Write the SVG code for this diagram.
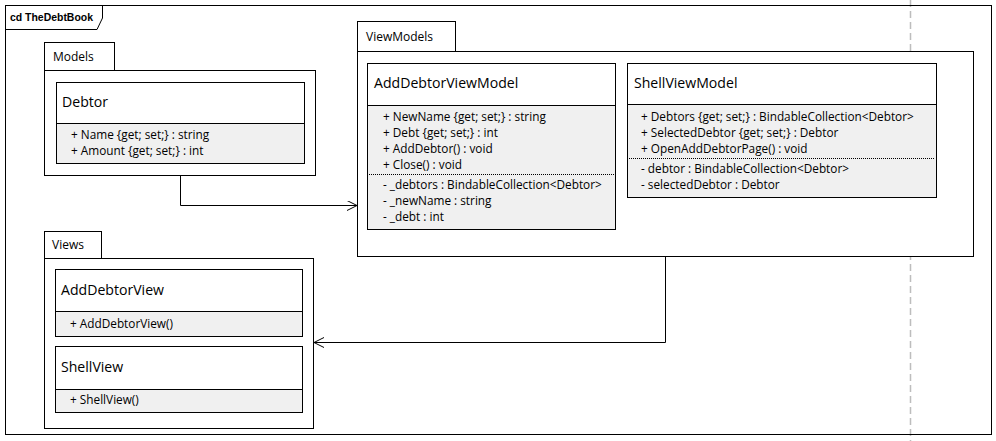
<svg xmlns="http://www.w3.org/2000/svg" width="996" height="441" viewBox="0 0 996 441">
<style>
.frame{fill:none;stroke:#000;stroke-width:1}
.pkg{fill:#fff;stroke:#000;stroke-width:1}
.hdr{fill:#fff;stroke:#000;stroke-width:1}
.cmp{fill:#f0f0f0;stroke:#000;stroke-width:1}
.dot{stroke:#000;stroke-width:1;stroke-dasharray:1,1}
.conn{fill:none;stroke:#000;stroke-width:1}
.t{font-family:"Open Sans","Liberation Sans",Arial,sans-serif;fill:#000}
.title{font-size:14.1px}
.pk{font-size:12px}
.m{font-size:11.8px}
.fb{font-family:"Liberation Sans",Arial,sans-serif;font-size:11px;font-weight:bold}
</style>
<defs>
<marker id="open" markerWidth="12" markerHeight="12" refX="10" refY="5" orient="auto" markerUnits="userSpaceOnUse">
<path d="M0,0 L10,5 L0,10" fill="none" stroke="#000" stroke-width="1"/>
</marker>
</defs>
<rect width="996" height="441" fill="#fff"/>
<line x1="910.5" y1="0" x2="910.5" y2="441" stroke="#bdbdbd" stroke-width="1.5" stroke-dasharray="7,4"/>
<g id="frame">
<rect class="frame" x="5.5" y="5.5" width="986" height="429"/>
<path class="frame" d="M5.5,29.5 H97 L102.5,18 V5.5"/>
<text class="t fb" x="10" y="21" textLength="83" lengthAdjust="spacingAndGlyphs">cd TheDebtBook</text>
</g>
<g id="Models">
<rect class="pkg" x="44.5" y="42.5" width="70" height="28"/>
<rect class="pkg" x="44.5" y="70.5" width="271" height="105"/>
<text class="t pk" x="53" y="61">Models</text>
</g>
<g id="Debtor">
<rect class="hdr" x="56.5" y="82.5" width="248" height="41"/>
<rect class="cmp" x="56.5" y="123.5" width="248" height="40"/>
<text class="t title" x="62" y="107">Debtor</text>
<text class="t m" x="71" y="139">+ Name {get; set;} : string</text>
<text class="t m" x="71" y="155">+ Amount {get; set;} : int</text>
</g>
<g id="ViewModels">
<rect class="pkg" x="357.5" y="21.5" width="98" height="30"/>
<rect class="pkg" x="357.5" y="51.5" width="616" height="205"/>
<text class="t pk" x="366" y="41">ViewModels</text>
</g>
<g id="AddDebtorViewModel">
<rect class="hdr" x="367.5" y="63.5" width="248" height="42"/>
<rect class="cmp" x="367.5" y="105.5" width="248" height="124"/>
<text class="t title" x="374" y="88">AddDebtorViewModel</text>
<text class="t m" x="383" y="121">+ NewName {get; set;} : string</text>
<text class="t m" x="383" y="137">+ Debt {get; set;} : int</text>
<text class="t m" x="383" y="153">+ AddDebtor() : void</text>
<text class="t m" x="383" y="169">+ Close() : void</text>
<line class="dot" x1="369" y1="174.5" x2="614" y2="174.5"/>
<text class="t m" x="383" y="189">- _debtors : BindableCollection&lt;Debtor&gt;</text>
<text class="t m" x="383" y="205">- _newName : string</text>
<text class="t m" x="383" y="221">- _debt : int</text>
</g>
<g id="ShellViewModel">
<rect class="hdr" x="627.5" y="63.5" width="309" height="41"/>
<rect class="cmp" x="627.5" y="104.5" width="309" height="93"/>
<text class="t title" x="634" y="88">ShellViewModel</text>
<text class="t m" x="641" y="121">+ Debtors {get; set;} : BindableCollection&lt;Debtor&gt;</text>
<text class="t m" x="641" y="137">+ SelectedDebtor {get; set;} : Debtor</text>
<text class="t m" x="641" y="153">+ OpenAddDebtorPage() : void</text>
<line class="dot" x1="629" y1="158.5" x2="935" y2="158.5"/>
<text class="t m" x="641" y="173">- debtor : BindableCollection&lt;Debtor&gt;</text>
<text class="t m" x="641" y="189">- selectedDebtor : Debtor</text>
</g>
<g id="Views">
<rect class="pkg" x="44.5" y="231.5" width="57" height="27"/>
<rect class="pkg" x="44.5" y="258.5" width="269" height="170"/>
<text class="t pk" x="52" y="249">Views</text>
</g>
<g id="AddDebtorView">
<rect class="hdr" x="55.5" y="269.5" width="247" height="42"/>
<rect class="cmp" x="55.5" y="311.5" width="247" height="25"/>
<text class="t title" x="61" y="295">AddDebtorView</text>
<text class="t m" x="70" y="328">+ AddDebtorView()</text>
</g>
<g id="ShellView">
<rect class="hdr" x="55.5" y="346.5" width="247" height="43"/>
<rect class="cmp" x="55.5" y="389.5" width="247" height="23"/>
<text class="t title" x="61" y="372">ShellView</text>
<text class="t m" x="70" y="404">+ ShellView()</text>
</g>
<g id="connectors">
<path class="conn" d="M180.5,175.5 V205.5 H357" marker-end="url(#open)"/>
<path class="conn" d="M665.5,256.5 V342.5 H314" marker-end="url(#open)"/>
</g>
</svg>
